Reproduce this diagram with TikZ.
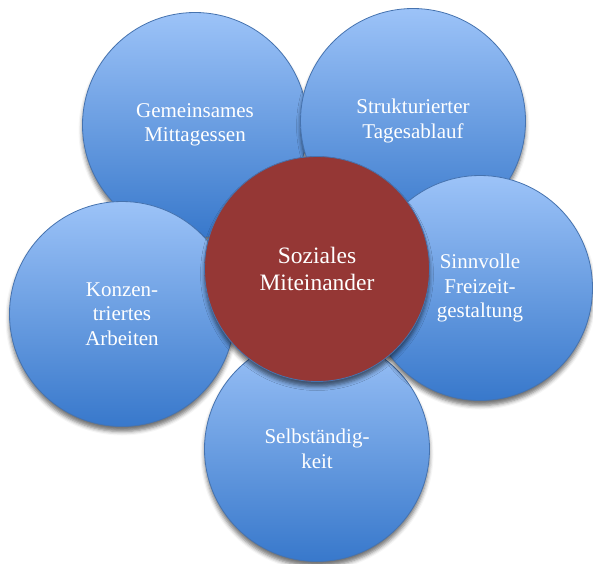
\documentclass[tikz,border=0pt]{standalone}
\usepackage{fontspec}
\setmainfont{Liberation Serif}
\usetikzlibrary{shadows.blur}
\definecolor{petaltop}{RGB}{156,195,248}
\definecolor{petalbottom}{RGB}{56,120,203}
\definecolor{petalline}{RGB}{70,115,175}
\definecolor{hubred}{RGB}{149,55,53}
\begin{document}
\begin{tikzpicture}[x=1pt,y=-1pt,
  petal/.style={circle, minimum size=225pt, inner sep=0pt,
    top color=petaltop, bottom color=petalbottom, draw=petalline, line width=0.8pt,
    text=white, align=center, font=\rmfamily\fontsize{21}{24.5}\selectfont,
    blur shadow={shadow xshift=0pt, shadow yshift=-5pt, shadow blur radius=4pt, shadow opacity=55}},
  hub/.style={petal, fill=hubred, top color=hubred, bottom color=hubred,
    font=\rmfamily\fontsize{23.5}{26.7}\selectfont}]
\useasboundingbox (0,0) rectangle (593,563);
% outer petals, back to front
\node[petal] (selbst) at (317,449) {Selbständig-\\keit};
\node[petal] (mittag) at (195,125) {Gemeinsames\\Mittagessen};
\node[petal] (tag) at (413,121) {Strukturierter\\Tagesablauf};
\node[petal] (konz) at (122,314) {Konzen-\\triertes\\Arbeiten};
\node[petal] (frei) at (480,288) {Sinnvolle\\Freizeit-\\gestaltung};
% centre
\node[hub] (sozial) at (317,269) {Soziales\\Miteinander};
\end{tikzpicture}
\end{document}
